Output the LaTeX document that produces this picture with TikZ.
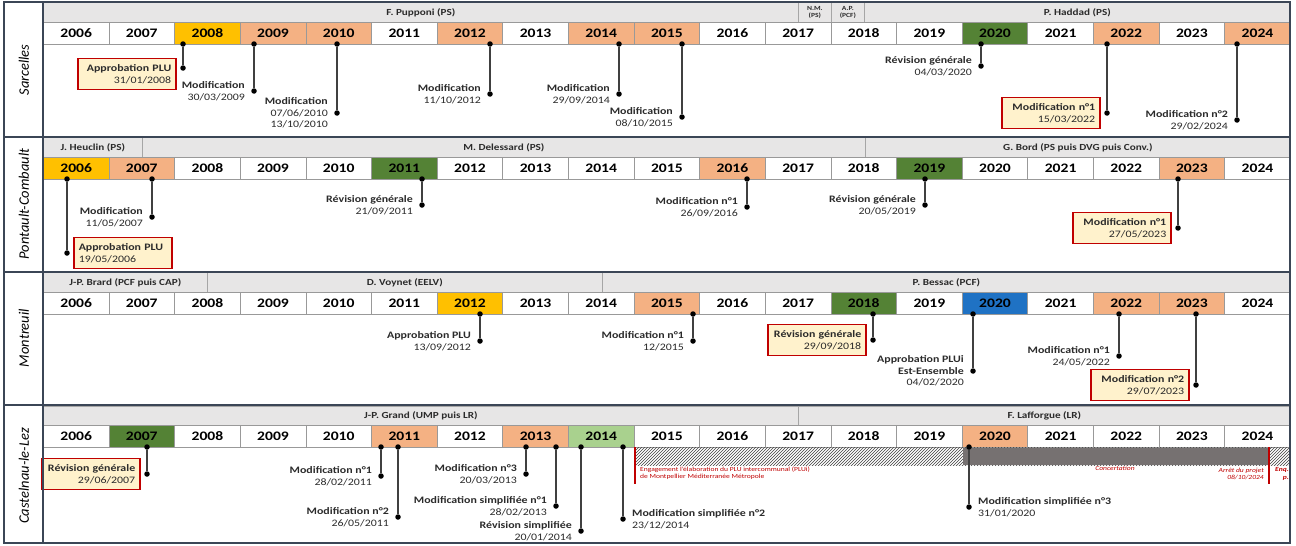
\documentclass[tikz,border=0pt]{standalone}
\usepackage{fontspec}
\setmainfont{Carlito}[FakeStretch=1.2]
\newfontfamily\secfont{Carlito}
\usetikzlibrary{patterns}
\definecolor{cG}{HTML}{FFC000}
\definecolor{cO}{HTML}{F4B183}
\definecolor{cV}{HTML}{548235}
\definecolor{cL}{HTML}{A9D18E}
\definecolor{cB}{HTML}{1F72C4}
\definecolor{cBar}{HTML}{E7E6E6}
\definecolor{cTxt}{HTML}{2B2B2B}
\definecolor{cRed}{HTML}{C00000}
\definecolor{cCream}{HTML}{FFF2CC}
\definecolor{cStem}{HTML}{404040}
\definecolor{cFrame}{HTML}{3B4656}
\definecolor{cDark}{HTML}{767171}
\tikzset{
 ycell/.style={draw=gray!80, line width=0.7, minimum width=65.63, minimum height=22, inner sep=0, anchor=north west, font=\bfseries\fontsize{13}{13}\selectfont, text=black},
 mayor/.style={draw=gray!70, line width=0.7, fill=cBar, inner sep=0, anchor=north west, font=\bfseries\fontsize{9.3}{10}\selectfont, text=cTxt},
 small/.style={align=center, font=\bfseries\fontsize{6.3}{6.8}\selectfont},
 lbl/.style={inner sep=0, align=right, font=\fontsize{9.9}{11.5}\selectfont, text=cTxt},
 lblr/.style={inner sep=0, align=left, font=\fontsize{9.9}{11.5}\selectfont, text=cTxt},
 evbox/.style={draw=cRed, line width=1.6, fill=cCream, minimum width=98, minimum height=31, text width=88, inner xsep=5, inner ysep=2, align=right, font=\fontsize{9.9}{11.5}\selectfont, text=cTxt},
 dot/.style={circle, fill=black, inner sep=0, minimum size=5.5},
 stem/.style={draw=cStem, line width=1.4},
 frame/.style={draw=cFrame, line width=1.2},
 redtxt/.style={inner sep=0, text=cRed, font=\fontsize{6.3}{7}\selectfont},
 redline/.style={draw=cRed, line width=2},
 seclab/.style={rotate=90, inner sep=0, text=black, font=\secfont\itshape\fontsize{14.5}{15}\selectfont}
}
\newcommand\YearRow[3]{%
 \foreach \c [count=\i from 0] in {#3} {
   \pgfmathtruncatemacro\yr{2006+\i}
   \node[ycell, fill=\c] (#1y\i) at ({43+\i*65.63},#2) {\yr};
 }}
\newcommand\EvL[6][]{%
  \node[dot] (#2t) at (#3,#4) {};
  \node[dot] (#2b) at (#3,#5) {};
  \draw[stem] (#2t) -- (#2b);
  \node[lbl,anchor=east,#1] (#2l) at ([xshift=-6pt]#2b.west) {#6};
}
\newcommand\EvR[6][]{%
  \node[dot] (#2t) at (#3,#4) {};
  \node[dot] (#2b) at (#3,#5) {};
  \draw[stem] (#2t) -- (#2b);
  \node[lblr,anchor=west,#1] (#2l) at ([xshift=6pt]#2b.east) {#6};
}
\newcommand\EvB[6][]{%
  \node[dot] (#2t) at (#3,#4) {};
  \node[dot] (#2b) at (#3,#5) {};
  \draw[stem] (#2t) -- (#2b);
  \node[evbox,anchor=east,#1] (#2l) at ([xshift=-3pt]#2b.west) {#6};
}
\newcommand\EvBR[6][]{%
  \node[dot] (#2t) at (#3,#4) {};
  \node[dot] (#2b) at (#3,#5) {};
  \draw[stem] (#2t) -- (#2b);
  \node[evbox,align=left,anchor=west,#1] (#2l) at ([xshift=3pt]#2b.east) {#6};
}
\begin{document}
\begin{tikzpicture}[x=1pt,y=-1pt]
\useasboundingbox[fill=white] (0,0) rectangle (1296,546);

% ---------- mayor bars ----------
\node[mayor, minimum width=755, minimum height=20] (m1a) at (43,2) {F. Pupponi (PS)};
\node[mayor, small, minimum width=33, minimum height=20] (m1b) at (798,2) {N.M.\\(PS)};
\node[mayor, small, minimum width=33, minimum height=20] (m1c) at (831,2) {A.P.\\(PCF)};
\node[mayor, minimum width=426, minimum height=20] (m1d) at (864,2) {P. Haddad (PS)};

\node[mayor, minimum width=99, minimum height=20] (m2a) at (43,137) {J. Heuclin (PS)};
\node[mayor, minimum width=723, minimum height=20] (m2b) at (142,137) {M. Delessard (PS)};
\node[mayor, minimum width=425, minimum height=20] (m2c) at (865,137) {G. Bord (PS puis DVG puis Conv.)};

\node[mayor, minimum width=164, minimum height=20] (m3a) at (43,272) {J-P. Brard (PCF puis CAP)};
\node[mayor, minimum width=395, minimum height=20] (m3b) at (207,272) {D. Voynet (EELV)};
\node[mayor, minimum width=688, minimum height=20] (m3c) at (602,272) {P. Bessac (PCF)};

\node[mayor, minimum width=755, minimum height=19.5] (m4a) at (43,405.5) {J-P. Grand (UMP puis LR)};
\node[mayor, minimum width=492, minimum height=19.5] (m4b) at (798,405.5) {F. Lafforgue (LR)};

% ---------- year rows ----------
\YearRow{s1}{22}{white,white,cG,cO,cO,white,cO,white,cO,cO,white,white,white,white,cV,white,cO,white,cO}
\YearRow{s2}{157}{cG,cO,white,white,white,cV,white,white,white,white,cO,white,white,cV,white,white,white,cO,white}
\YearRow{s3}{292}{white,white,white,white,white,white,cG,white,white,cO,white,white,cV,white,cB,white,cO,cO,white}
\YearRow{s4}{425}{white,cV,white,white,white,cO,white,cO,cL,white,white,white,white,white,cO,white,white,white,white}

% ---------- Castelnau PLUi band ----------
\fill[pattern=north east lines, pattern color=black!75] (635,447.5) rectangle (1290,465);
\fill[cDark] (963,447.5) rectangle (1269,465);
\coordinate (r1a) at (635,447); \coordinate (r1b) at (635,484);
\coordinate (r2a) at (1269,447); \coordinate (r2b) at (1269,484);
\draw[redline] (r1a) -- (r1b);
\draw[redline] (r2a) -- (r2b);
\node[redtxt, anchor=north west, align=left] (eng) at (640,466.5) {Engagement l'élaboration du PLU intercommunal (PLUi)\\de Montpellier Méditerranée Métropole};
\node[redtxt, font=\itshape\fontsize{6.3}{7}\selectfont] (conc) at (1115,468) {Concertation};
\node[redtxt, anchor=north east, align=right, font=\itshape\fontsize{6.3}{7.8}\selectfont] (arret) at (1264,467.5) {Arrêt du projet\\08/10/2024};
\node[redtxt, anchor=north east, align=right, font=\bfseries\itshape\fontsize{6.3}{7.8}\selectfont] (enq) at (1289,467.5) {Enq.\\p.};

% ---------- Sarcelles events ----------
\EvB[yshift=-6pt]{sa}{183}{44}{68}{\textbf{Approbation PLU}\\31/01/2008}
\EvL{sb}{254}{44}{91}{\textbf{Modification}\\30/03/2009}
\EvL{sc}{337}{44}{113}{\textbf{Modification}\\07/06/2010\\13/10/2010}
\EvL{sd}{490}{44}{94}{\textbf{Modification}\\11/10/2012}
\EvL{se}{619}{44}{94}{\textbf{Modification}\\29/09/2014}
\EvL{sf}{682}{44}{117}{\textbf{Modification}\\08/10/2015}
\EvL{sg}{981}{44}{66}{\textbf{Révision générale}\\04/03/2020}
\EvB{sh}{1107}{44}{113}{\textbf{Modification n°1}\\15/03/2022}
\EvL{si}{1237}{44}{120}{\textbf{Modification n°2}\\29/02/2024}

% ---------- Pontault-Combault events ----------
\EvBR{pa}{67}{179}{253}{\textbf{Approbation PLU}\\19/05/2006}
\EvL{pb}{152}{179}{217}{\textbf{Modification}\\11/05/2007}
\EvL{pc}{422}{179}{205}{\textbf{Révision générale}\\21/09/2011}
\EvL{pd}{747}{179}{207}{\textbf{Modification n°1}\\26/09/2016}
\EvL{pe}{925}{179}{205}{\textbf{Révision générale}\\20/05/2019}
\EvB{pf}{1178}{179}{228}{\textbf{Modification n°1}\\27/05/2023}

% ---------- Montreuil events ----------
\EvL{ma}{480}{314}{341}{\textbf{Approbation PLU}\\13/09/2012}
\EvL{mb}{693}{314}{341}{\textbf{Modification n°1}\\12/2015}
\EvB{mc}{873}{314}{340}{\textbf{Révision générale}\\29/09/2018}
\EvL{md}{973}{314}{371}{\textbf{Approbation PLUi}\\\textbf{Est-Ensemble}\\04/02/2020}
\EvL{me}{1119}{314}{356}{\textbf{Modification n°1}\\24/05/2022}
\EvB{mf}{1196}{314}{385}{\textbf{Modification n°2}\\29/07/2023}

% ---------- Castelnau-le-Lez events ----------
\EvB{ca}{147}{447}{474}{\textbf{Révision générale}\\29/06/2007}
\EvL{cb}{381}{447}{476}{\textbf{Modification n°1}\\28/02/2011}
\EvL{cc}{398}{447}{517}{\textbf{Modification n°2}\\26/05/2011}
\EvL{cd}{526}{447}{474}{\textbf{Modification n°3}\\20/03/2013}
\EvL{ce}{556}{447}{506}{\textbf{Modification simplifiée n°1}\\28/02/2013}
\EvL{cf}{581}{447}{531}{\textbf{Révision simplifiée}\\20/01/2014}
\EvR{cg}{623}{447}{519}{\textbf{Modification simplifiée n°2}\\23/12/2014}
\EvR{ch}{969}{447}{507}{\textbf{Modification simplifiée n°3}\\31/01/2020}

% ---------- frame ----------
\draw[frame] (4,2) rectangle (1290,543);
\draw[frame] (4,137) -- (1290,137);
\draw[frame] (4,272) -- (1290,272);
\draw[frame] (4,405) -- (1290,405);
\draw[frame] (43,2) -- (43,543);

% ---------- section labels ----------
\node[seclab] (lab1) at (24,70) {Sarcelles};
\node[seclab] (lab2) at (24,204) {Pontault-Combault};
\node[seclab] (lab3) at (24,338) {Montreuil};
\node[seclab] (lab4) at (24,476) {Castelnau-le-Lez};
\end{tikzpicture}
\end{document}
